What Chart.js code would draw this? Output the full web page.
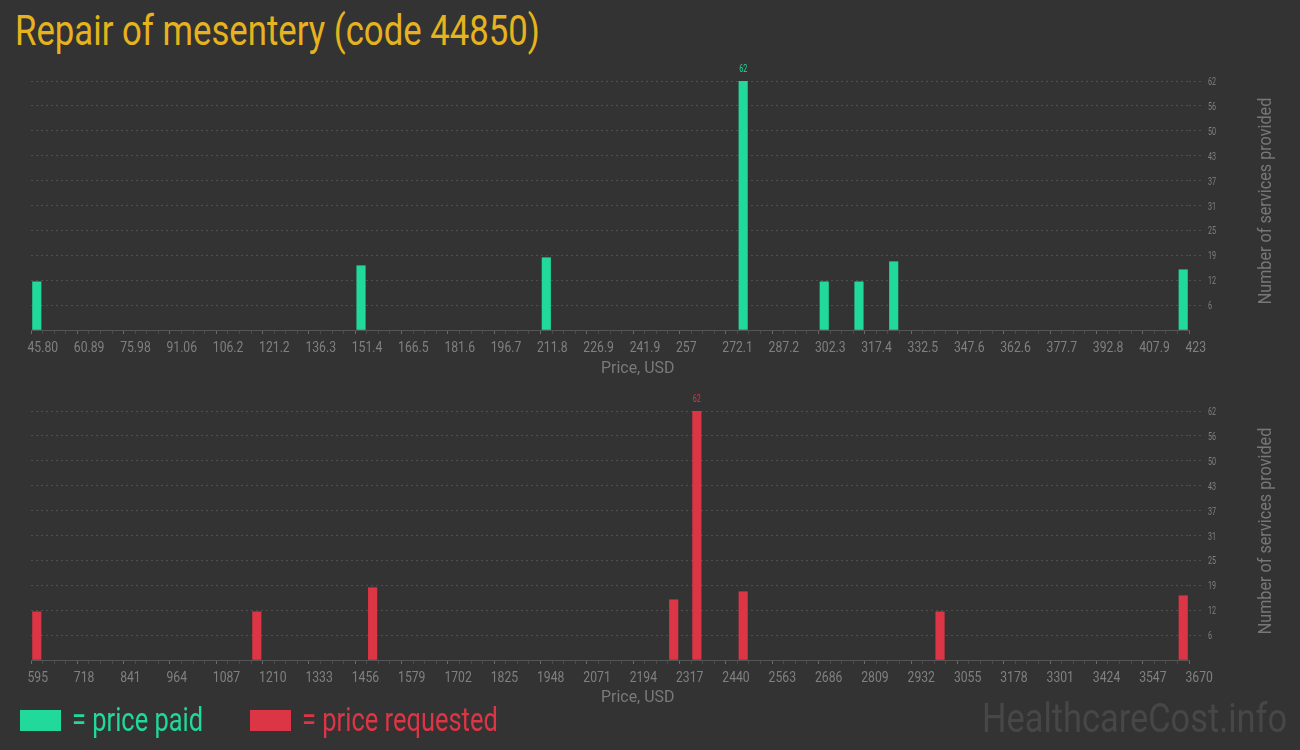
<!DOCTYPE html>
<html>
<head>
<meta charset="utf-8">
<script src="https://cdn.jsdelivr.net/npm/chart.js@4.4.1/dist/chart.umd.min.js"></script>
<style>
  body { margin:0; width:1300px; height:750px; background:#333333; position:relative; overflow:hidden; font-family:Roboto, sans-serif; }
  .txt { position:absolute; white-space:nowrap; line-height:1; transform-origin:left top; }
  .box { position:absolute; left:0; width:1300px; height:335px; }
  .key { position:absolute; width:41px; height:21px; top:710px; }
  .ytitle { position:absolute; white-space:nowrap; line-height:1; font-size:19px; color:#777; }
</style>
</head>
<body>
<div id="title" class="txt" style="left:15px;top:10px;font-size:42px;color:#e6b31e">Repair of mesentery (code 44850)</div>

<div class="box" style="top:55px"><canvas id="paidChart"></canvas></div>
<div class="box" style="top:385px"><canvas id="reqChart"></canvas></div>

<div id="xt1" class="txt" style="top:359px;font-size:17px;color:#7a7a7a">Price, USD</div>
<div id="xt2" class="txt" style="top:688px;font-size:17px;color:#7a7a7a">Price, USD</div>
<div id="yt1" class="ytitle" style="left:1264px;top:201px">Number of services provided</div>
<div id="yt2" class="ytitle" style="left:1264px;top:531px">Number of services provided</div>

<div class="key" style="left:20px;background:#20d99b"></div>
<div id="lg1" class="txt" style="left:72px;top:703px;font-size:33px;color:#20d99b">= price paid</div>
<div class="key" style="left:250px;background:#dc3545"></div>
<div id="lg2" class="txt" style="left:302px;top:703px;font-size:33px;color:#dc3545">= price requested</div>

<div id="wm" class="txt" style="left:982px;top:699px;font-size:40px;color:#474747">HealthcareCost.info</div>

<script>
// histogram bins (100 bins per chart), only non-empty ones listed
const paidBins = [0, 28, 44, 61, 68, 71, 74, 99];
const paidCounts = [12, 16, 18, 62, 12, 12, 17, 15];
const reqBins = [0, 19, 29, 55, 57, 61, 78, 99];
const reqCounts = [12, 12, 18, 15, 62, 17, 12, 16];

const paidTicks = ['45.80','60.89','75.98','91.06','106.2','121.2','136.3','151.4','166.5','181.6','196.7','211.8','226.9','241.9','257','272.1','287.2','302.3','317.4','332.5','347.6','362.6','377.7','392.8','407.9','423'];
const reqTicks = ['595','718','841','964','1087','1210','1333','1456','1579','1702','1825','1948','2071','2194','2317','2440','2563','2686','2809','2932','3055','3178','3301','3424','3547','3670'];
const countTicks = [6, 12, 19, 25, 31, 37, 43, 50, 56, 62];

const GREEN = '#20d99b';
const RED = '#dc3545';
const LABEL_GREY = '#808080';

// squeeze html text to the width it has in the picture
function fit(id, w, center) {
  const el = document.getElementById(id);
  const k = w / el.offsetWidth;
  el.style.transform = 'scaleX(' + k + ')';
  if (center) el.style.left = (center - w / 2) + 'px';
}
function fitRot(id, w) {
  const el = document.getElementById(id);
  const k = w / el.offsetWidth;
  el.style.transform = 'translate(-50%,-50%) rotate(-90deg) scaleX(' + k + ')';
}
fit('title', 525);
fit('lg1', 131);
fit('lg2', 196);
fit('wm', 305);
fit('xt1', 73, 637.5);
fit('xt2', 73, 637.5);
fitRot('yt1', 207);
fitRot('yt2', 207);

// narrow text on the canvas (no condensed font installed)
function narrowText(ctx, text, x, y, k) {
  ctx.save();
  ctx.translate(x, y);
  ctx.scale(k, 1);
  ctx.fillText(text, 0, 0);
  ctx.restore();
}

function makeChart(id, bins, counts, labels, color) {
  const pts = bins.map((b, i) => ({ x: b + 0.5, y: counts[i] }));

  // tick labels + the peak value, drawn at the positions the scales give
  const labelPlugin = {
    id: 'labelPlugin',
    afterDraw(chart) {
      const ctx = chart.ctx, sx = chart.scales.x, sy = chart.scales.y;
      ctx.save();
      ctx.fillStyle = LABEL_GREY;
      ctx.textAlign = 'left';
      ctx.textBaseline = 'alphabetic';
      ctx.font = '14px Roboto';
      sx.ticks.forEach(t => {
        if (t.value % 4 !== 0) return;
        narrowText(ctx, labels[t.value / 4], sx.getPixelForValue(t.value) - 3.5, sx.top + 22, 0.87);
      });
      ctx.font = '11px Roboto';
      sy.ticks.forEach((t, i) => {
        if (i === 0) return;
        narrowText(ctx, String(countTicks[i - 1]), sy.left + 19, sy.getPixelForValue(t.value) + 4, 0.65);
      });
      const top = Math.max(...counts);
      const bar = chart.getDatasetMeta(0).data[counts.indexOf(top)];
      ctx.fillStyle = color;
      ctx.textAlign = 'center';
      narrowText(ctx, String(top), bar.x, bar.y - 9, 0.65);
      ctx.restore();
    }
  };

  return new Chart(document.getElementById(id), {
    type: 'bar',
    data: { datasets: [{ data: pts, backgroundColor: color, barThickness: 8.5 }] },
    plugins: [labelPlugin],
    options: {
      responsive: true, maintainAspectRatio: false, animation: false,
      layout: { padding: { top: 26, left: 31, right: 21, bottom: 0 } },
      plugins: { legend: { display: false }, tooltip: { enabled: false } },
      scales: {
        x: {
          type: 'linear', min: 0, max: 100, offset: false,
          afterFit: s => { s.height = 60; },
          border: { color: '#555', width: 1 },
          grid: {
            offset: false, drawOnChartArea: false, drawTicks: true, tickLength: 4,
            tickColor: c => (c.tick && c.tick.value % 4 === 0) ? '#6a6a6a' : '#4a4a4a'
          },
          ticks: { display: false, stepSize: 1, autoSkip: false, maxRotation: 0, minRotation: 0 }
        },
        y: {
          position: 'right', min: 0, max: 62,
          afterFit: s => { s.width = 90; },
          border: { display: false, dash: [2, 3] },
          grid: {
            color: c => c.tick && c.tick.value === 0 ? 'rgba(0,0,0,0)' : 'rgba(255,255,255,0.14)',
            tickColor: c => c.tick && c.tick.value === 0 ? 'rgba(0,0,0,0)' : 'rgba(255,255,255,0.14)',
            tickBorderDash: [2, 3], tickLength: 14
          },
          ticks: { display: false, stepSize: 6.2 }
        }
      }
    }
  });
}

makeChart('paidChart', paidBins, paidCounts, paidTicks, GREEN);
makeChart('reqChart', reqBins, reqCounts, reqTicks, RED);
</script>
</body>
</html>
